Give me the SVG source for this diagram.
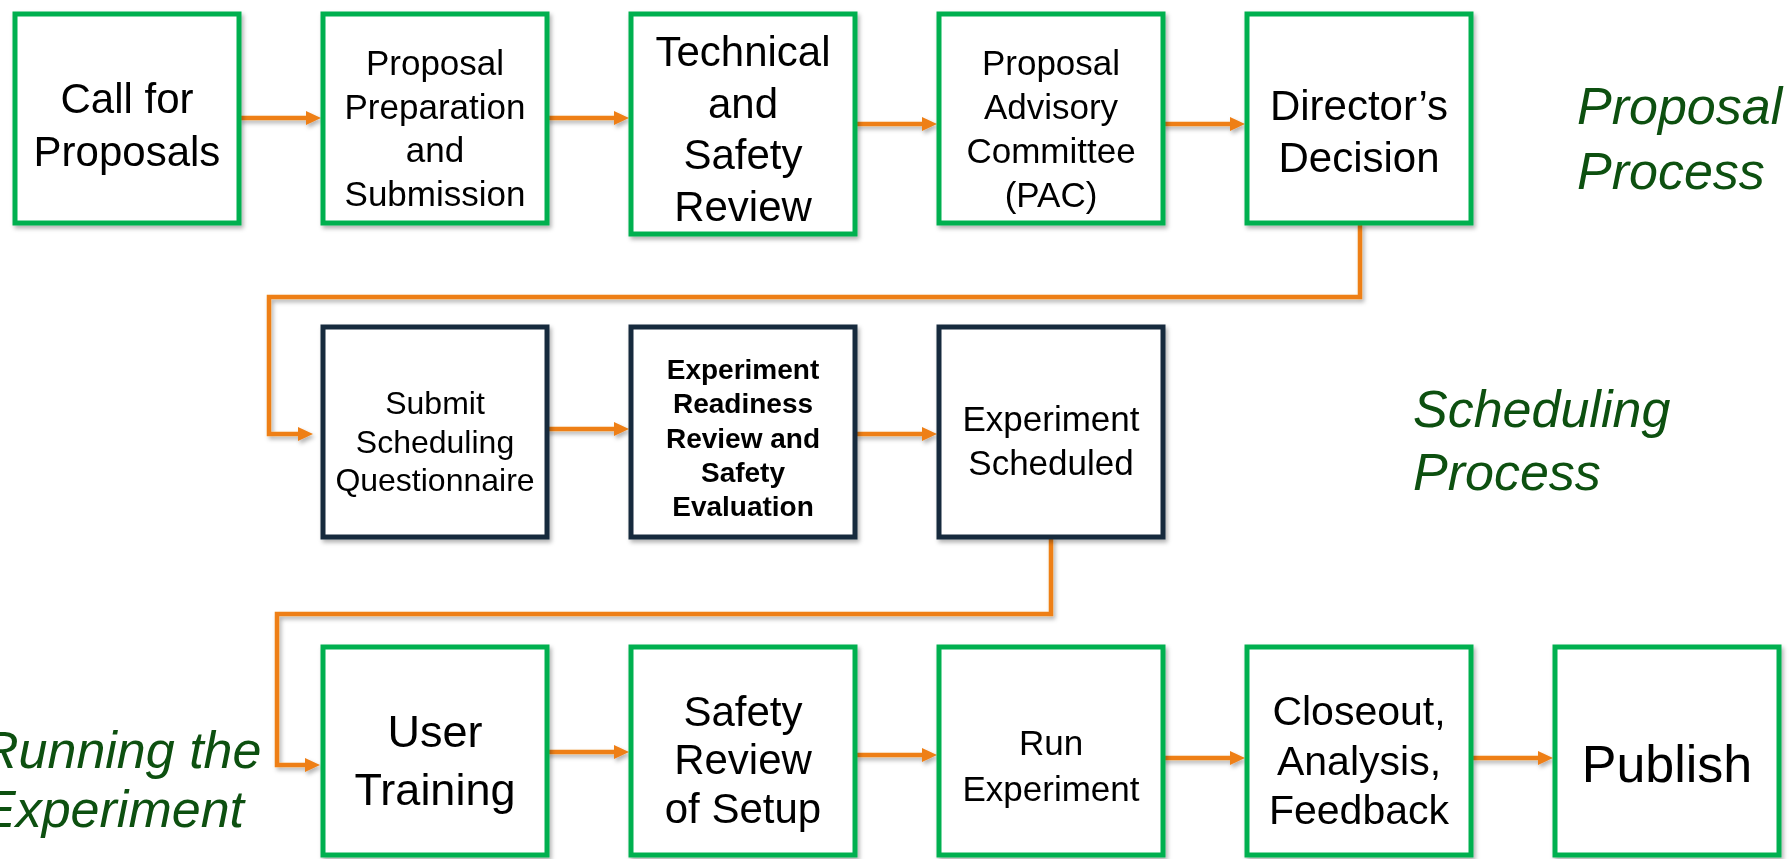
<svg xmlns="http://www.w3.org/2000/svg" width="1792" height="859" viewBox="0 0 1792 859">
<defs>
<filter id="sh" x="-10%" y="-10%" width="130%" height="130%">
<feDropShadow dx="2" dy="3" stdDeviation="2" flood-color="#000" flood-opacity="0.3"/>
</filter>
<marker id="ah" markerUnits="userSpaceOnUse" markerWidth="16" markerHeight="14" refX="1" refY="7" orient="auto">
<path d="M0,0 L15,7 L0,14 z" fill="#EE7F16"/>
</marker>
</defs>
<style>
.g{fill:#fff;stroke:#00B050;stroke-width:5}
.n{fill:#fff;stroke:#17293D;stroke-width:5}
.t{font-family:"Liberation Sans",Arial,sans-serif;fill:#000;text-anchor:middle}
.b{font-weight:bold}
.lab{font-family:"Liberation Sans",Arial,sans-serif;font-style:italic;fill:#0D5010;font-size:52px}
.c{fill:none;stroke:#EE7F16;stroke-width:4.5;marker-end:url(#ah)}
</style>
<rect width="1792" height="859" fill="#fff"/>

<g id="labels">
<text class="lab" x="1577" y="124">Proposal</text>
<text class="lab" x="1577" y="189">Process</text>
<text class="lab" x="1413" y="427">Scheduling</text>
<text class="lab" x="1413" y="490">Process</text>
<text class="lab" x="-19" y="768">Running the</text>
<text class="lab" x="-19" y="827">Experiment</text>
</g>

<g id="connectors" filter="url(#sh)">
<path class="c" d="M239,118 H307"/>
<path class="c" d="M546,118 H615"/>
<path class="c" d="M855,124 H923"/>
<path class="c" d="M1162,124 H1231"/>
<path class="c" d="M1360,223 V297 H269 V434 H299"/>
<path class="c" d="M546,429 H615"/>
<path class="c" d="M855,434 H923"/>
<path class="c" d="M1051,537 V614 H277 V765 H306"/>
<path class="c" d="M546,752 H615"/>
<path class="c" d="M855,755 H923"/>
<path class="c" d="M1162,758 H1231"/>
<path class="c" d="M1472,758 H1539"/>
</g>

<g id="n1" filter="url(#sh)"><rect class="g" x="15" y="14" width="224" height="209"/>
<text class="t" font-size="42"><tspan x="127" y="113">Call for</tspan><tspan x="127" y="166">Proposals</tspan></text></g>
<g id="n2" filter="url(#sh)"><rect class="g" x="323" y="14" width="224" height="209"/>
<text class="t" font-size="35"><tspan x="435" y="75">Proposal</tspan><tspan x="435" y="119">Preparation</tspan><tspan x="435" y="162">and</tspan><tspan x="435" y="206">Submission</tspan></text></g>
<g id="n3" filter="url(#sh)"><rect class="g" x="631" y="14" width="224" height="220"/>
<text class="t" font-size="42"><tspan x="743" y="66">Technical</tspan><tspan x="743" y="118">and</tspan><tspan x="743" y="169">Safety</tspan><tspan x="743" y="221">Review</tspan></text></g>
<g id="n4" filter="url(#sh)"><rect class="g" x="939" y="14" width="224" height="209"/>
<text class="t" font-size="35"><tspan x="1051" y="75">Proposal</tspan><tspan x="1051" y="119">Advisory</tspan><tspan x="1051" y="163">Committee</tspan><tspan x="1051" y="207">(PAC)</tspan></text></g>
<g id="n5" filter="url(#sh)"><rect class="g" x="1247" y="14" width="224" height="209"/>
<text class="t" font-size="42"><tspan x="1359" y="120">Director’s</tspan><tspan x="1359" y="172">Decision</tspan></text></g>

<g id="n6" filter="url(#sh)"><rect class="n" x="323" y="327" width="224" height="210"/>
<text class="t" font-size="32"><tspan x="435" y="414">Submit</tspan><tspan x="435" y="453">Scheduling</tspan><tspan x="435" y="491">Questionnaire</tspan></text></g>
<g id="n7" filter="url(#sh)"><rect class="n" x="631" y="327" width="224" height="210"/>
<text class="t b" font-size="28"><tspan x="743" y="379">Experiment</tspan><tspan x="743" y="413">Readiness</tspan><tspan x="743" y="448">Review and</tspan><tspan x="743" y="482">Safety</tspan><tspan x="743" y="516">Evaluation</tspan></text></g>
<g id="n8" filter="url(#sh)"><rect class="n" x="939" y="327" width="224" height="210"/>
<text class="t" font-size="35"><tspan x="1051" y="431">Experiment</tspan><tspan x="1051" y="475">Scheduled</tspan></text></g>

<g id="n9" filter="url(#sh)"><rect class="g" x="323" y="647" width="224" height="208"/>
<text class="t" font-size="45"><tspan x="435" y="747">User</tspan><tspan x="435" y="805">Training</tspan></text></g>
<g id="n10" filter="url(#sh)"><rect class="g" x="631" y="647" width="224" height="208"/>
<text class="t" font-size="42"><tspan x="743" y="726">Safety</tspan><tspan x="743" y="774">Review</tspan><tspan x="743" y="823">of Setup</tspan></text></g>
<g id="n11" filter="url(#sh)"><rect class="g" x="939" y="647" width="224" height="208"/>
<text class="t" font-size="35"><tspan x="1051" y="755">Run</tspan><tspan x="1051" y="801">Experiment</tspan></text></g>
<g id="n12" filter="url(#sh)"><rect class="g" x="1247" y="647" width="224" height="208"/>
<text class="t" font-size="41"><tspan x="1359" y="725">Closeout,</tspan><tspan x="1359" y="775">Analysis,</tspan><tspan x="1359" y="824">Feedback</tspan></text></g>
<g id="n13" filter="url(#sh)"><rect class="g" x="1555" y="647" width="224" height="208"/>
<text class="t" font-size="52"><tspan x="1667" y="782">Publish</tspan></text></g>
</svg>
